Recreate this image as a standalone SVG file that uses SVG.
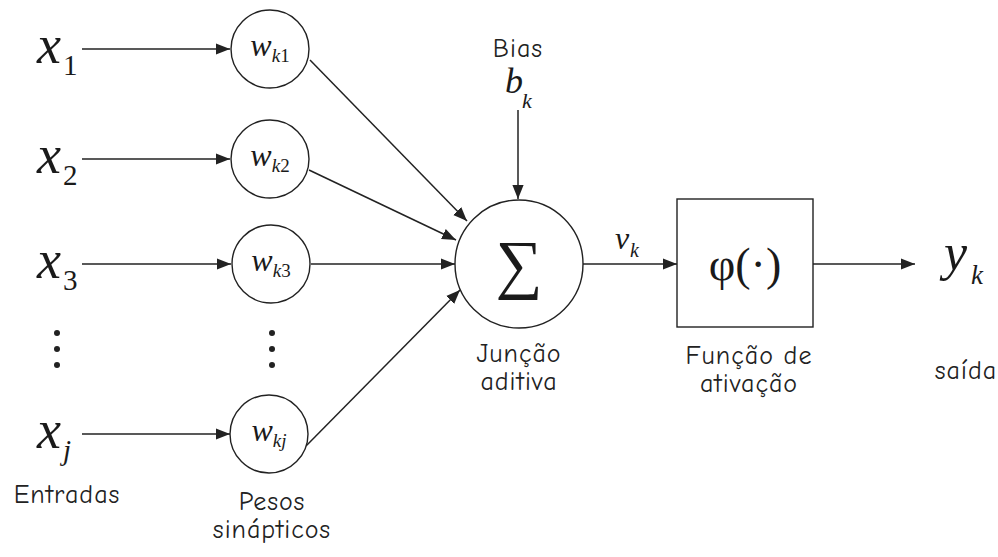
<svg xmlns="http://www.w3.org/2000/svg" width="998" height="557" viewBox="0 0 998 557">
<style>
.m{font-family:"Liberation Serif","Times New Roman",serif;fill:#1a1a1a}
.h{font-family:"Comic Neue","DejaVu Sans","Liberation Sans",sans-serif;font-size:26px;fill:#222;text-anchor:middle;letter-spacing:1px}
.c{fill:#fff;stroke:#222;stroke-width:1.4}
.e{stroke:#222;stroke-width:1.5;fill:none;marker-end:url(#a)}
</style>
<defs>
<marker id="a" viewBox="0 0 10 10" refX="10" refY="5" markerWidth="14" markerHeight="14" markerUnits="userSpaceOnUse" orient="auto"><path d="M0,1 L10,5 L0,9 z" fill="#222"/></marker>
</defs>
<rect width="998" height="557" fill="#fff"/>
<g id="connectors">
<line class="e" x1="82" y1="49" x2="230" y2="49"/>
<line class="e" x1="82" y1="159" x2="230" y2="159"/>
<line class="e" x1="82" y1="264" x2="231" y2="264"/>
<line class="e" x1="82" y1="434" x2="230" y2="434"/>
<line class="e" x1="310" y1="60" x2="467" y2="221"/>
<line class="e" x1="309" y1="170" x2="456" y2="240"/>
<line class="e" x1="311" y1="264" x2="455" y2="264"/>
<line class="e" x1="306" y1="446" x2="460" y2="290"/>
<line class="e" x1="518" y1="110" x2="518" y2="199"/>
<line class="e" x1="583" y1="264" x2="677" y2="264"/>
<line class="e" x1="813" y1="264" x2="915" y2="264"/>
</g>
<g id="x1"><text class="m" x="37" y="63" font-size="54" font-style="italic">x</text><text class="m" x="63" y="75" font-size="29">1</text></g>
<g id="x2"><text class="m" x="37" y="173" font-size="54" font-style="italic">x</text><text class="m" x="63" y="185" font-size="29">2</text></g>
<g id="x3"><text class="m" x="37" y="278" font-size="54" font-style="italic">x</text><text class="m" x="63" y="290" font-size="29">3</text></g>
<g id="xj"><text class="m" x="37" y="448" font-size="54" font-style="italic">x</text><text class="m" x="63" y="460" font-size="29" font-style="italic">j</text></g>
<g id="dots1" fill="#222"><circle cx="57" cy="333" r="3"/><circle cx="57" cy="349" r="3"/><circle cx="57" cy="365" r="3"/></g>
<g id="dots2" fill="#222"><circle cx="272" cy="333" r="3"/><circle cx="272" cy="349" r="3"/><circle cx="272" cy="365" r="3"/></g>
<g id="wk1"><circle class="c" cx="270" cy="49" r="39"/><text class="m" x="270" y="56" font-size="32" text-anchor="middle"><tspan font-style="italic">w</tspan><tspan font-style="italic" font-size="19" dy="6">k</tspan><tspan font-size="19">1</tspan></text></g>
<g id="wk2"><circle class="c" cx="270" cy="159" r="39"/><text class="m" x="270" y="166" font-size="32" text-anchor="middle"><tspan font-style="italic">w</tspan><tspan font-style="italic" font-size="19" dy="6">k</tspan><tspan font-size="19">2</tspan></text></g>
<g id="wk3"><circle class="c" cx="271" cy="264" r="39"/><text class="m" x="271" y="271" font-size="32" text-anchor="middle"><tspan font-style="italic">w</tspan><tspan font-style="italic" font-size="19" dy="6">k</tspan><tspan font-size="19">3</tspan></text></g>
<g id="wkj"><circle class="c" cx="269" cy="434" r="39"/><text class="m" x="269" y="441" font-size="32" text-anchor="middle"><tspan font-style="italic">w</tspan><tspan font-style="italic" font-size="19" dy="6">kj</tspan></text></g>
<g id="sum"><circle class="c" cx="519" cy="264" r="64"/><text class="m" x="519" y="286" font-size="66" text-anchor="middle">∑</text></g>
<g id="bias"><text class="h" x="518" y="57">Bias</text><text class="m" x="505" y="93" font-size="36" font-style="italic">b</text><text class="m" x="522" y="108" font-size="22" font-style="italic">k</text></g>
<g id="vk"><text class="m" x="615" y="249" font-size="32" font-style="italic">v</text><text class="m" x="630" y="257" font-size="20" font-style="italic">k</text></g>
<g id="phi"><rect class="c" x="677" y="199" width="136" height="128"/><text class="m" x="745" y="280" font-size="46" text-anchor="middle">φ(·)</text></g>
<g id="yk"><text class="m" x="944" y="270" font-size="52" font-style="italic">y</text><text class="m" x="971" y="284" font-size="27" font-style="italic">k</text></g>
<g id="labels">
<text class="h" x="519" y="362">Junção</text>
<text class="h" x="519" y="390">aditiva</text>
<text class="h" x="749" y="364">Função de</text>
<text class="h" x="749" y="392">ativação</text>
<text class="h" x="966" y="379">saída</text>
<text class="h" x="67" y="503">Entradas</text>
<text class="h" x="272" y="510">Pesos</text>
<text class="h" x="272" y="538">sinápticos</text>
</g>
</svg>
